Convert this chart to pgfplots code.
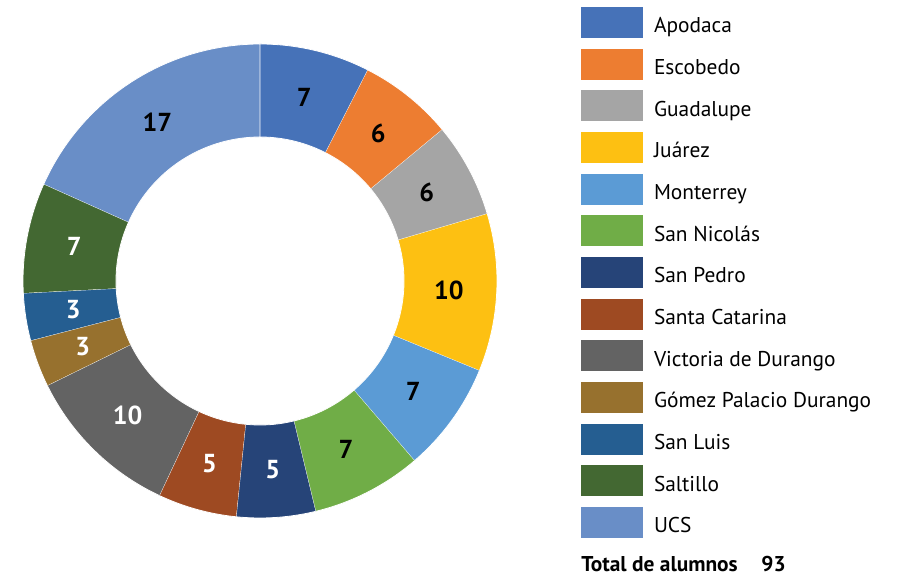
\documentclass[border=0pt]{standalone}
\usepackage{pgfplots}
\pgfplotsset{compat=1.18}
\usepackage{fontspec}
\setmainfont{PT Sans}
\definecolor{cApo}{HTML}{4672B8}
\definecolor{cEsc}{HTML}{ED7D31}
\definecolor{cGua}{HTML}{A5A5A5}
\definecolor{cJua}{HTML}{FDC012}
\definecolor{cMon}{HTML}{5B9BD5}
\definecolor{cSNi}{HTML}{70AD47}
\definecolor{cSPe}{HTML}{264478}
\definecolor{cSCa}{HTML}{9E4A22}
\definecolor{cVic}{HTML}{636363}
\definecolor{cGom}{HTML}{97712E}
\definecolor{cSLu}{HTML}{255E91}
\definecolor{cSal}{HTML}{436832}
\definecolor{cUCS}{HTML}{698EC7}
% #1 colour, #2 cumulative start, #3 value, #4 label colour, #5 name
\newcommand{\slice}[5]{%
  \addplot[fill=#1, draw=white, line width=0.4pt, samples at={0,...,81}, variable=\t]
  ({260 + (\t<40.5 ? 237 : 144)*cos(\t<40.5 ? 90-360/93*(#2+#3*\t/40) : 90-360/93*(#2+#3*(81-\t)/40))},
   {295 + (\t<40.5 ? 237 : 144)*sin(\t<40.5 ? 90-360/93*(#2+#3*\t/40) : 90-360/93*(#2+#3*(81-\t)/40))});
  \addlegendentry{#5}
  \node[font=\fontsize{13}{15}\selectfont\bfseries, text=#4, inner sep=0pt]
    at (axis cs:{260+189*cos(90-360/93*(#2+#3/2))},{295+189*sin(90-360/93*(#2+#3/2))}) {#3};
}
\begin{document}
\begin{tikzpicture}
\begin{axis}[
  width=452pt, height=288pt, scale only axis,
  xmin=0, xmax=904, ymin=0, ymax=576,
  hide axis, clip=false,
  legend cell align=left,
  legend image code/.code={\fill[#1, draw=none] (0pt,-7.75pt) rectangle (31pt,7.75pt);},
  legend style={at={(axis cs:581,569)}, anchor=north west, draw=none, fill=none,
    inner sep=0pt, outer sep=0pt, row sep=5.33pt, column sep=5.5pt,
    font=\fontsize{10.7}{12}\selectfont,
    nodes={inner sep=0pt, text height=13pt, text depth=2.5pt}},
]
\slice{cApo}{0}{7}{black}{Apodaca}
\slice{cEsc}{7}{6}{black}{Escobedo}
\slice{cGua}{13}{6}{black}{Guadalupe}
\slice{cJua}{19}{10}{black}{Juárez}
\slice{cMon}{29}{7}{black}{Monterrey}
\slice{cSNi}{36}{7}{black}{San Nicolás}
\slice{cSPe}{43}{5}{white}{San Pedro}
\slice{cSCa}{48}{5}{white}{Santa Catarina}
\slice{cVic}{53}{10}{white}{Victoria de Durango}
\slice{cGom}{63}{3}{white}{Gómez Palacio Durango}
\slice{cSLu}{66}{3}{white}{San Luis}
\slice{cSal}{69}{7}{white}{Saltillo}
\slice{cUCS}{76}{17}{black}{UCS}
\node[anchor=base west, inner sep=0pt, font=\fontsize{10.7}{12}\selectfont\bfseries] at (axis cs:581,4) {Total de alumnos};
\node[anchor=base west, inner sep=0pt, font=\fontsize{10.7}{12}\selectfont\bfseries] at (axis cs:761,4) {93};
\path (axis cs:0,0) rectangle (axis cs:904,576);
\end{axis}
\end{tikzpicture}
\end{document}
